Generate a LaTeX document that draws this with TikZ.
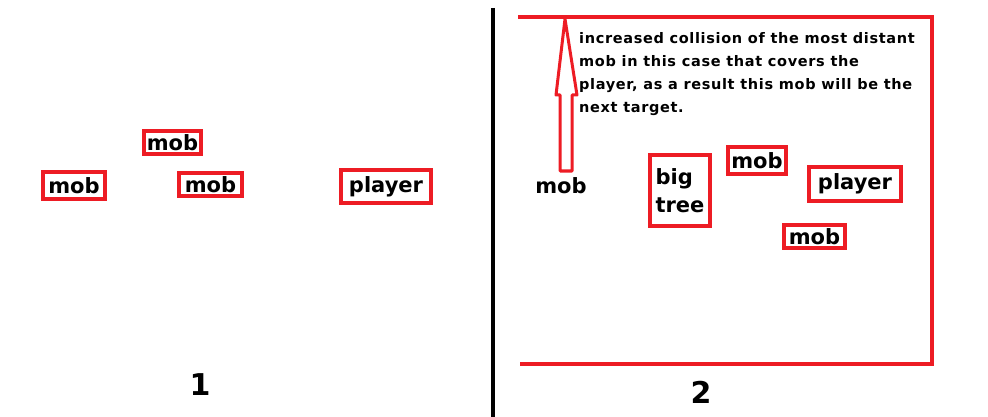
\documentclass[tikz,border=0pt]{standalone}
\usepackage{fontspec}
\setmainfont{DejaVu Sans}
\usetikzlibrary{calc}
\definecolor{paintred}{RGB}{237,28,36}
\begin{document}
\begin{tikzpicture}[x=1pt, y=-1pt,
  every node/.style = {inner sep=0pt, font=\bfseries\fontsize{21}{24}\selectfont},
  box/.style  = {draw=paintred, line width=4pt, fill=white, align=left},
  note/.style = {align=left, anchor=north west,
    font=\bfseries\fontsize{14.5}{23}\selectfont\addfontfeatures{LetterSpace=4.5}},
  label/.style = {font=\bfseries\fontsize{30}{32}\selectfont}]
\useasboundingbox (0,0) rectangle (988,417);
% left picture
\node[box, minimum width=57, minimum height=23] (mobtop) at (172.5,142.5) {mob};
\node[box, minimum width=62, minimum height=27] (mobleft) at (74,185.5) {mob};
\node[box, minimum width=63, minimum height=23] (mobmid) at (210.5,184.5) {mob};
\node[box, minimum width=90, minimum height=33] (playerl) at (386,186.5) {player};
\node[label] (one) at (200,385) {1};
% divider
\draw[line width=4pt] (493,8) -- (493,417);
% right picture
\draw[paintred, line width=4pt] (518,17) -- (932,17) -- (932,364) -- (520,364);
\node (mobfar) at (561,186) {mob};
\node[box, minimum width=60, minimum height=71] (tree) at (680,190.5)
  {big\\[4pt]tree};
\node[box, minimum width=58, minimum height=27] (mobnear) at (757,160.5) {mob};
\node[box, minimum width=92, minimum height=34] (playerr) at (855,184) {player};
\node[box, minimum width=61, minimum height=23] (moblow) at (814.5,236.5) {mob};
\node[note] (text) at (579,32)
  {increased collision of the most distant\\
   mob in this case that covers the\\
   player, as a result this mob will be the\\
   next target.};
\node[label] (two) at (701,392) {2};
% hollow arrow
\coordinate (foot) at (566,171);
\coordinate (tip) at (565,19);
\draw[paintred, line width=3pt, line join=round, fill=white]
  ($(foot)+(-6,0)$) -- ($(foot)+(-6,-76)$) -- ($(tip)+(-9,76)$) -- (tip)
  -- ($(tip)+(12,76)$) -- ($(foot)+(6,-76)$) -- ($(foot)+(6,0)$) -- cycle;
\end{tikzpicture}
\end{document}
